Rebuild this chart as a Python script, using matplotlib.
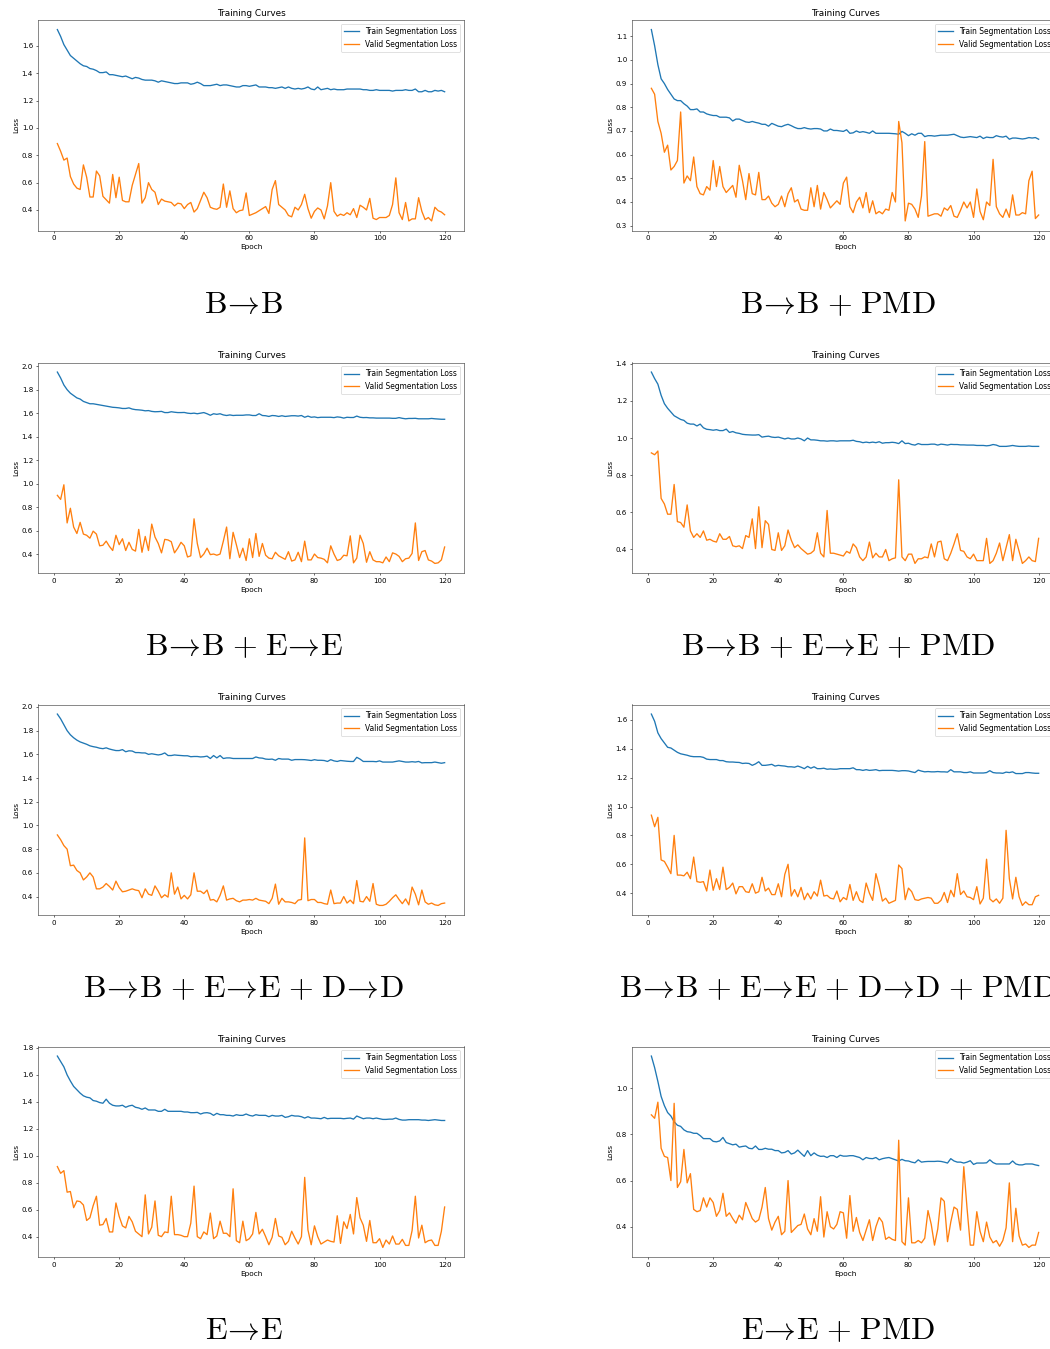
import numpy as np
import matplotlib
matplotlib.use("Agg")
import matplotlib.pyplot as plt

# scaled-down look of the original screenshots
S = 0.51
plt.rcParams.update({
    "font.size": 10 * S,
    "axes.titlesize": 6.4,
    "axes.labelsize": 5.3,
    "xtick.labelsize": 5.1,
    "ytick.labelsize": 5.1,
    "legend.fontsize": 5.45,
    "axes.linewidth": 0.8 * S,
    "axes.edgecolor": "#333333",
    "lines.linewidth": 0.95,
    "xtick.major.size": 3.5 * S,
    "ytick.major.size": 3.5 * S,
    "xtick.major.width": 0.8 * S,
    "ytick.major.width": 0.8 * S,
    "xtick.major.pad": 3.5 * S,
    "ytick.major.pad": 3.5 * S,
    "axes.titlepad": 6 * S,
    "axes.labelpad": 4 * S,
    "legend.frameon": True,
    "patch.linewidth": 1.0 * S,
    "mathtext.fontset": "cm",
})

A = r"\!\rightarrow\!"
P = r"\hspace{0.09}+\hspace{0.09}"
captions = [
    r"$\mathrm{B}" + A + r"\mathrm{B}$",
    r"$\mathrm{B}" + A + r"\mathrm{B}" + P + r"\mathrm{PMD}$",
    r"$\mathrm{B}" + A + r"\mathrm{B}" + P + r"\mathrm{E}" + A + r"\mathrm{E}$",
    r"$\mathrm{B}" + A + r"\mathrm{B}" + P + r"\mathrm{E}" + A + r"\mathrm{E}" + P + r"\mathrm{PMD}$",
    r"$\mathrm{B}" + A + r"\mathrm{B}" + P + r"\mathrm{E}" + A + r"\mathrm{E}" + P + r"\mathrm{D}" + A + r"\mathrm{D}$",
    r"$\mathrm{B}" + A + r"\mathrm{B}" + P + r"\mathrm{E}" + A + r"\mathrm{E}" + P + r"\mathrm{D}" + A + r"\mathrm{D}" + P + r"\mathrm{PMD}$",
    r"$\mathrm{E}" + A + r"\mathrm{E}$",
    r"$\mathrm{E}" + A + r"\mathrm{E}" + P + r"\mathrm{PMD}$",
]

# ---- B->B ----
train_bb = [1.72, 1.67, 1.61, 1.57, 1.53, 1.51, 1.49, 1.47, 1.455, 1.45,
            1.435, 1.43, 1.42, 1.405, 1.405, 1.41, 1.39, 1.39, 1.385, 1.38,
            1.375, 1.38, 1.37, 1.36, 1.37, 1.365, 1.355, 1.35, 1.35, 1.35,
            1.345, 1.335, 1.345, 1.34, 1.335, 1.33, 1.325, 1.325, 1.33, 1.33,
            1.33, 1.32, 1.325, 1.335, 1.325, 1.31, 1.31, 1.31, 1.315, 1.32,
            1.31, 1.315, 1.315, 1.31, 1.305, 1.30, 1.30, 1.31, 1.31, 1.305,
            1.31, 1.315, 1.30, 1.30, 1.30, 1.295, 1.295, 1.29, 1.295, 1.30,
            1.29, 1.30, 1.29, 1.285, 1.29, 1.285, 1.29, 1.30, 1.285, 1.28,
            1.30, 1.28, 1.285, 1.29, 1.28, 1.285, 1.28, 1.28, 1.28, 1.285,
            1.285, 1.285, 1.285, 1.285, 1.28, 1.28, 1.275, 1.275, 1.28, 1.275,
            1.275, 1.275, 1.275, 1.27, 1.275, 1.275, 1.275, 1.28, 1.275, 1.275,
            1.285, 1.265, 1.265, 1.275, 1.265, 1.265, 1.275, 1.27, 1.275, 1.265]
valid_bb = [0.886, 0.83, 0.765, 0.78, 0.645, 0.59, 0.56, 0.55, 0.73, 0.64,
            0.495, 0.495, 0.685, 0.65, 0.50, 0.475, 0.45, 0.66, 0.49, 0.64,
            0.47, 0.46, 0.46, 0.58, 0.66, 0.74, 0.45, 0.49, 0.60, 0.55,
            0.53, 0.44, 0.48, 0.465, 0.46, 0.455, 0.43, 0.45, 0.445, 0.41,
            0.44, 0.455, 0.385, 0.41, 0.47, 0.53, 0.49, 0.42, 0.41, 0.405,
            0.42, 0.59, 0.42, 0.54, 0.41, 0.38, 0.395, 0.40, 0.525, 0.36,
            0.37, 0.38, 0.395, 0.41, 0.425, 0.375, 0.55, 0.615, 0.44, 0.42,
            0.40, 0.36, 0.35, 0.42, 0.40, 0.44, 0.515, 0.41, 0.34, 0.39,
            0.415, 0.40, 0.335, 0.43, 0.60, 0.39, 0.355, 0.37, 0.36, 0.38,
            0.365, 0.41, 0.345, 0.435, 0.42, 0.40, 0.485, 0.34, 0.33, 0.345,
            0.345, 0.345, 0.36, 0.44, 0.635, 0.38, 0.33, 0.455, 0.32, 0.335,
            0.335, 0.49, 0.39, 0.33, 0.345, 0.32, 0.42, 0.395, 0.385, 0.365]

# ---- B->B + PMD ----
train_bb_pmd = [1.128, 1.06, 0.98, 0.92, 0.90, 0.875, 0.855, 0.835, 0.828, 0.828,
                0.815, 0.805, 0.79, 0.79, 0.793, 0.78, 0.78, 0.772, 0.768, 0.765,
                0.765, 0.758, 0.758, 0.758, 0.755, 0.742, 0.75, 0.75, 0.744, 0.738,
                0.736, 0.74, 0.736, 0.733, 0.728, 0.728, 0.72, 0.732, 0.726, 0.72,
                0.718, 0.724, 0.728, 0.722, 0.715, 0.71, 0.71, 0.714, 0.71, 0.708,
                0.71, 0.71, 0.708, 0.70, 0.70, 0.708, 0.702, 0.702, 0.70, 0.698,
                0.705, 0.69, 0.692, 0.70, 0.694, 0.697, 0.694, 0.69, 0.70, 0.69,
                0.69, 0.69, 0.69, 0.69, 0.689, 0.688, 0.686, 0.698, 0.69, 0.68,
                0.688, 0.682, 0.69, 0.69, 0.676, 0.68, 0.68, 0.678, 0.68, 0.682,
                0.682, 0.682, 0.684, 0.686, 0.68, 0.674, 0.672, 0.674, 0.676, 0.674,
                0.672, 0.678, 0.668, 0.674, 0.672, 0.672, 0.68, 0.676, 0.674, 0.678,
                0.665, 0.67, 0.67, 0.668, 0.666, 0.668, 0.672, 0.67, 0.672, 0.665]
valid_bb_pmd = [0.88, 0.855, 0.74, 0.69, 0.61, 0.64, 0.535, 0.55, 0.575, 0.78,
                0.48, 0.51, 0.49, 0.59, 0.465, 0.435, 0.43, 0.465, 0.45, 0.575,
                0.465, 0.55, 0.465, 0.44, 0.455, 0.47, 0.42, 0.555, 0.49, 0.41,
                0.52, 0.435, 0.43, 0.525, 0.41, 0.41, 0.425, 0.395, 0.38, 0.39,
                0.425, 0.38, 0.435, 0.46, 0.40, 0.41, 0.37, 0.365, 0.365, 0.46,
                0.38, 0.47, 0.37, 0.44, 0.41, 0.375, 0.39, 0.405, 0.39, 0.48,
                0.505, 0.38, 0.355, 0.40, 0.42, 0.375, 0.44, 0.355, 0.405, 0.35,
                0.36, 0.35, 0.37, 0.365, 0.44, 0.40, 0.74, 0.65, 0.32, 0.395,
                0.39, 0.37, 0.335, 0.425, 0.655, 0.34, 0.345, 0.35, 0.35, 0.34,
                0.375, 0.365, 0.385, 0.34, 0.335, 0.365, 0.40, 0.375, 0.40, 0.335,
                0.455, 0.36, 0.325, 0.40, 0.385, 0.58, 0.38, 0.35, 0.335, 0.37,
                0.335, 0.43, 0.345, 0.345, 0.355, 0.35, 0.49, 0.53, 0.33, 0.345]

# ---- B->B + E->E ----
train_bbee = [1.95, 1.90, 1.84, 1.80, 1.77, 1.75, 1.73, 1.72, 1.70, 1.69,
              1.68, 1.68, 1.675, 1.67, 1.665, 1.66, 1.655, 1.65, 1.648, 1.645,
              1.64, 1.64, 1.645, 1.635, 1.63, 1.628, 1.625, 1.62, 1.622, 1.615,
              1.612, 1.613, 1.615, 1.605, 1.605, 1.612, 1.608, 1.605, 1.605, 1.606,
              1.60, 1.597, 1.60, 1.595, 1.60, 1.605, 1.595, 1.582, 1.595, 1.59,
              1.595, 1.585, 1.58, 1.585, 1.58, 1.582, 1.582, 1.582, 1.585, 1.585,
              1.58, 1.58, 1.595, 1.58, 1.578, 1.572, 1.58, 1.578, 1.572, 1.578,
              1.572, 1.575, 1.578, 1.578, 1.575, 1.58, 1.565, 1.575, 1.565, 1.568,
              1.562, 1.565, 1.565, 1.565, 1.565, 1.562, 1.568, 1.565, 1.558, 1.565,
              1.563, 1.563, 1.575, 1.565, 1.562, 1.563, 1.56, 1.56, 1.558, 1.558,
              1.558, 1.558, 1.558, 1.556, 1.556, 1.562, 1.556, 1.552, 1.555, 1.555,
              1.556, 1.552, 1.552, 1.552, 1.552, 1.555, 1.552, 1.55, 1.548, 1.548]
valid_bbee = [0.90, 0.865, 0.99, 0.665, 0.79, 0.63, 0.575, 0.67, 0.57, 0.56,
              0.535, 0.595, 0.57, 0.47, 0.475, 0.51, 0.465, 0.43, 0.56, 0.48,
              0.53, 0.43, 0.50, 0.44, 0.425, 0.61, 0.415, 0.55, 0.43, 0.655,
              0.545, 0.49, 0.41, 0.525, 0.52, 0.505, 0.41, 0.45, 0.50, 0.47,
              0.375, 0.385, 0.70, 0.49, 0.37, 0.40, 0.45, 0.395, 0.40, 0.39,
              0.40, 0.51, 0.63, 0.36, 0.585, 0.48, 0.37, 0.45, 0.345, 0.53,
              0.37, 0.575, 0.38, 0.49, 0.39, 0.365, 0.36, 0.415, 0.385, 0.37,
              0.355, 0.42, 0.34, 0.35, 0.415, 0.335, 0.51, 0.35, 0.35, 0.40,
              0.37, 0.365, 0.355, 0.325, 0.47, 0.40, 0.345, 0.355, 0.39, 0.385,
              0.555, 0.325, 0.365, 0.56, 0.49, 0.33, 0.42, 0.35, 0.335, 0.335,
              0.325, 0.375, 0.335, 0.41, 0.40, 0.38, 0.335, 0.36, 0.365, 0.405,
              0.665, 0.345, 0.42, 0.43, 0.35, 0.34, 0.32, 0.325, 0.35, 0.46]

# ---- B->B + E->E + PMD ----
train_bbee_pmd = [1.355, 1.32, 1.29, 1.23, 1.185, 1.16, 1.14, 1.12, 1.11, 1.10,
                  1.095, 1.08, 1.075, 1.075, 1.065, 1.075, 1.055, 1.047, 1.045, 1.042,
                  1.045, 1.04, 1.04, 1.048, 1.03, 1.035, 1.028, 1.025, 1.02, 1.018,
                  1.017, 1.016, 1.016, 1.018, 1.005, 1.008, 1.01, 1.005, 1.003, 1.005,
                  1.0, 0.995, 1.0, 0.995, 0.995, 1.0, 0.995, 0.985, 1.0, 0.99,
                  0.99, 0.988, 0.985, 0.985, 0.983, 0.985, 0.985, 0.983, 0.985, 0.985,
                  0.985, 0.985, 0.988, 0.982, 0.98, 0.975, 0.978, 0.975, 0.978, 0.975,
                  0.98, 0.972, 0.975, 0.975, 0.977, 0.975, 0.97, 0.985, 0.97, 0.972,
                  0.965, 0.962, 0.97, 0.965, 0.965, 0.965, 0.967, 0.967, 0.962, 0.967,
                  0.965, 0.962, 0.966, 0.965, 0.965, 0.963, 0.963, 0.962, 0.962, 0.962,
                  0.96, 0.96, 0.96, 0.958, 0.96, 0.965, 0.962, 0.955, 0.955, 0.955,
                  0.957, 0.96, 0.957, 0.955, 0.955, 0.955, 0.957, 0.955, 0.955, 0.955]
valid_bbee_pmd = [0.92, 0.91, 0.93, 0.675, 0.645, 0.59, 0.59, 0.75, 0.55, 0.545,
                  0.52, 0.64, 0.50, 0.465, 0.485, 0.465, 0.50, 0.45, 0.455, 0.445,
                  0.44, 0.485, 0.455, 0.455, 0.47, 0.42, 0.415, 0.42, 0.405, 0.475,
                  0.465, 0.565, 0.405, 0.63, 0.41, 0.555, 0.535, 0.40, 0.395, 0.49,
                  0.395, 0.42, 0.505, 0.45, 0.41, 0.425, 0.405, 0.39, 0.375, 0.38,
                  0.395, 0.49, 0.38, 0.36, 0.61, 0.38, 0.38, 0.375, 0.37, 0.365,
                  0.39, 0.38, 0.43, 0.41, 0.36, 0.34, 0.36, 0.44, 0.355, 0.38,
                  0.36, 0.36, 0.40, 0.34, 0.35, 0.355, 0.775, 0.36, 0.34, 0.375,
                  0.375, 0.325, 0.35, 0.35, 0.36, 0.355, 0.43, 0.36, 0.44, 0.445,
                  0.35, 0.34, 0.38, 0.43, 0.485, 0.395, 0.39, 0.36, 0.35, 0.375,
                  0.34, 0.34, 0.34, 0.46, 0.325, 0.34, 0.38, 0.435, 0.34, 0.41,
                  0.48, 0.34, 0.455, 0.39, 0.325, 0.34, 0.36, 0.34, 0.335, 0.46]

# ---- B->B + E->E + D->D ----
train_bbeedd = [1.94, 1.90, 1.85, 1.80, 1.765, 1.74, 1.72, 1.705, 1.695, 1.685,
                1.672, 1.665, 1.66, 1.652, 1.648, 1.655, 1.645, 1.638, 1.632, 1.632,
                1.64, 1.622, 1.63, 1.628, 1.615, 1.615, 1.612, 1.612, 1.60, 1.605,
                1.60, 1.595, 1.60, 1.612, 1.59, 1.59, 1.595, 1.592, 1.59, 1.588,
                1.588, 1.58, 1.582, 1.582, 1.578, 1.58, 1.585, 1.565, 1.59, 1.57,
                1.59, 1.565, 1.57, 1.57, 1.565, 1.565, 1.565, 1.565, 1.565, 1.565,
                1.565, 1.578, 1.57, 1.568, 1.56, 1.558, 1.56, 1.55, 1.565, 1.56,
                1.56, 1.56, 1.55, 1.556, 1.556, 1.556, 1.555, 1.552, 1.548, 1.555,
                1.55, 1.55, 1.548, 1.54, 1.555, 1.545, 1.54, 1.548, 1.545, 1.542,
                1.54, 1.54, 1.575, 1.56, 1.54, 1.54, 1.54, 1.54, 1.538, 1.545,
                1.535, 1.535, 1.535, 1.535, 1.54, 1.545, 1.54, 1.535, 1.535, 1.538,
                1.535, 1.54, 1.528, 1.53, 1.53, 1.53, 1.535, 1.53, 1.525, 1.53]
valid_bbeedd = [0.92, 0.88, 0.83, 0.80, 0.66, 0.665, 0.62, 0.60, 0.54, 0.565,
                0.60, 0.565, 0.465, 0.465, 0.48, 0.51, 0.485, 0.455, 0.53, 0.475,
                0.44, 0.445, 0.455, 0.465, 0.455, 0.45, 0.39, 0.465, 0.42, 0.41,
                0.49, 0.445, 0.39, 0.415, 0.395, 0.60, 0.42, 0.48, 0.38, 0.41,
                0.38, 0.415, 0.60, 0.445, 0.445, 0.425, 0.455, 0.37, 0.375, 0.355,
                0.41, 0.49, 0.37, 0.38, 0.385, 0.365, 0.355, 0.37, 0.37, 0.375,
                0.37, 0.385, 0.37, 0.365, 0.36, 0.34, 0.385, 0.505, 0.335, 0.385,
                0.355, 0.355, 0.35, 0.34, 0.37, 0.375, 0.895, 0.365, 0.375, 0.375,
                0.35, 0.35, 0.34, 0.335, 0.455, 0.34, 0.345, 0.345, 0.40, 0.345,
                0.37, 0.34, 0.535, 0.36, 0.355, 0.40, 0.36, 0.51, 0.335, 0.325,
                0.325, 0.335, 0.36, 0.39, 0.415, 0.375, 0.34, 0.38, 0.33, 0.48,
                0.42, 0.33, 0.455, 0.355, 0.335, 0.345, 0.33, 0.325, 0.34, 0.345]

# ---- B->B + E->E + D->D + PMD ----
train_bbeedd_pmd = [1.64, 1.59, 1.51, 1.47, 1.44, 1.41, 1.405, 1.39, 1.375, 1.365,
                    1.36, 1.355, 1.348, 1.345, 1.345, 1.345, 1.34, 1.328, 1.325, 1.325,
                    1.325, 1.318, 1.318, 1.31, 1.308, 1.308, 1.306, 1.305, 1.298, 1.30,
                    1.298, 1.285, 1.295, 1.31, 1.285, 1.285, 1.288, 1.292, 1.28, 1.285,
                    1.282, 1.28, 1.275, 1.275, 1.272, 1.28, 1.272, 1.262, 1.278, 1.265,
                    1.275, 1.262, 1.262, 1.265, 1.258, 1.26, 1.258, 1.258, 1.262, 1.262,
                    1.262, 1.262, 1.268, 1.255, 1.255, 1.25, 1.255, 1.25, 1.252, 1.255,
                    1.248, 1.25, 1.25, 1.25, 1.25, 1.248, 1.245, 1.248, 1.248, 1.246,
                    1.24, 1.235, 1.252, 1.245, 1.24, 1.242, 1.24, 1.24, 1.242, 1.24,
                    1.24, 1.238, 1.255, 1.24, 1.24, 1.24, 1.235, 1.235, 1.24, 1.232,
                    1.232, 1.232, 1.232, 1.235, 1.248, 1.235, 1.232, 1.232, 1.23, 1.238,
                    1.235, 1.24, 1.228, 1.228, 1.228, 1.235, 1.235, 1.232, 1.23, 1.23]
valid_bbeedd_pmd = [0.94, 0.86, 0.925, 0.63, 0.62, 0.58, 0.535, 0.80, 0.525, 0.525,
                    0.52, 0.545, 0.50, 0.65, 0.48, 0.475, 0.48, 0.415, 0.56, 0.42,
                    0.50, 0.425, 0.58, 0.425, 0.44, 0.47, 0.395, 0.445, 0.445, 0.41,
                    0.405, 0.465, 0.40, 0.41, 0.51, 0.415, 0.435, 0.39, 0.39, 0.465,
                    0.375, 0.53, 0.60, 0.38, 0.425, 0.375, 0.44, 0.355, 0.40, 0.36,
                    0.41, 0.38, 0.49, 0.38, 0.385, 0.365, 0.36, 0.415, 0.34, 0.37,
                    0.355, 0.46, 0.35, 0.41, 0.35, 0.335, 0.47, 0.40, 0.35, 0.535,
                    0.45, 0.345, 0.365, 0.33, 0.34, 0.35, 0.595, 0.57, 0.355, 0.435,
                    0.41, 0.355, 0.35, 0.36, 0.365, 0.37, 0.365, 0.33, 0.33, 0.35,
                    0.405, 0.335, 0.42, 0.375, 0.535, 0.39, 0.415, 0.375, 0.37, 0.355,
                    0.445, 0.325, 0.365, 0.635, 0.36, 0.34, 0.36, 0.33, 0.365, 0.835,
                    0.50, 0.36, 0.51, 0.375, 0.315, 0.34, 0.32, 0.32, 0.375, 0.385]

# ---- E->E ----
train_ee = [1.74, 1.70, 1.66, 1.60, 1.555, 1.515, 1.49, 1.465, 1.445, 1.435,
            1.43, 1.41, 1.405, 1.395, 1.39, 1.42, 1.39, 1.375, 1.37, 1.37,
            1.375, 1.36, 1.37, 1.375, 1.36, 1.355, 1.345, 1.355, 1.34, 1.34,
            1.34, 1.33, 1.33, 1.345, 1.33, 1.33, 1.33, 1.33, 1.33, 1.325,
            1.325, 1.32, 1.32, 1.322, 1.31, 1.318, 1.32, 1.315, 1.30, 1.315,
            1.305, 1.305, 1.30, 1.30, 1.295, 1.305, 1.30, 1.30, 1.31, 1.30,
            1.295, 1.305, 1.30, 1.30, 1.30, 1.29, 1.30, 1.295, 1.295, 1.30,
            1.285, 1.29, 1.30, 1.295, 1.295, 1.29, 1.28, 1.29, 1.28, 1.28,
            1.278, 1.275, 1.285, 1.275, 1.278, 1.278, 1.278, 1.278, 1.275, 1.278,
            1.28, 1.272, 1.295, 1.285, 1.275, 1.28, 1.28, 1.275, 1.28, 1.275,
            1.27, 1.27, 1.272, 1.272, 1.28, 1.27, 1.265, 1.265, 1.268, 1.268,
            1.268, 1.268, 1.265, 1.265, 1.262, 1.265, 1.268, 1.265, 1.262, 1.262]
valid_ee = [0.92, 0.87, 0.89, 0.73, 0.735, 0.615, 0.665, 0.66, 0.635, 0.52,
            0.54, 0.63, 0.70, 0.485, 0.49, 0.535, 0.435, 0.435, 0.65, 0.55,
            0.48, 0.465, 0.55, 0.51, 0.44, 0.42, 0.40, 0.71, 0.42, 0.47,
            0.665, 0.41, 0.40, 0.435, 0.43, 0.70, 0.415, 0.415, 0.41, 0.40,
            0.40, 0.50, 0.775, 0.40, 0.385, 0.435, 0.415, 0.575, 0.385, 0.405,
            0.515, 0.425, 0.425, 0.40, 0.755, 0.37, 0.355, 0.515, 0.37, 0.385,
            0.42, 0.58, 0.42, 0.455, 0.40, 0.34, 0.395, 0.535, 0.405, 0.395,
            0.34, 0.365, 0.44, 0.39, 0.345, 0.40, 0.84, 0.45, 0.34, 0.48,
            0.40, 0.345, 0.36, 0.375, 0.365, 0.36, 0.555, 0.35, 0.51, 0.46,
            0.565, 0.42, 0.69, 0.54, 0.485, 0.365, 0.52, 0.355, 0.355, 0.385,
            0.32, 0.375, 0.345, 0.405, 0.345, 0.345, 0.38, 0.335, 0.335, 0.445,
            0.70, 0.39, 0.485, 0.355, 0.37, 0.375, 0.335, 0.335, 0.44, 0.62]

# ---- E->E + PMD ----
train_ee_pmd = [1.14, 1.09, 1.03, 0.965, 0.925, 0.895, 0.88, 0.855, 0.84, 0.835,
                0.82, 0.812, 0.81, 0.805, 0.805, 0.795, 0.782, 0.782, 0.782, 0.77,
                0.768, 0.772, 0.787, 0.765, 0.76, 0.755, 0.758, 0.745, 0.748, 0.75,
                0.74, 0.738, 0.75, 0.735, 0.735, 0.74, 0.736, 0.736, 0.73, 0.73,
                0.72, 0.722, 0.73, 0.715, 0.72, 0.732, 0.718, 0.705, 0.73, 0.708,
                0.72, 0.71, 0.705, 0.706, 0.70, 0.708, 0.708, 0.70, 0.71, 0.706,
                0.706, 0.708, 0.708, 0.704, 0.70, 0.69, 0.70, 0.696, 0.695, 0.70,
                0.69, 0.695, 0.698, 0.70, 0.695, 0.69, 0.685, 0.692, 0.686, 0.685,
                0.68, 0.677, 0.69, 0.68, 0.682, 0.683, 0.683, 0.683, 0.684, 0.683,
                0.68, 0.676, 0.695, 0.685, 0.68, 0.68, 0.676, 0.68, 0.686, 0.67,
                0.676, 0.676, 0.676, 0.677, 0.69, 0.678, 0.672, 0.672, 0.672, 0.672,
                0.672, 0.685, 0.672, 0.668, 0.668, 0.672, 0.672, 0.672, 0.668, 0.665]
valid_ee_pmd = [0.885, 0.87, 0.94, 0.74, 0.705, 0.70, 0.60, 0.935, 0.57, 0.595,
                0.735, 0.59, 0.63, 0.475, 0.465, 0.47, 0.525, 0.485, 0.525, 0.505,
                0.445, 0.47, 0.545, 0.445, 0.46, 0.435, 0.415, 0.45, 0.43, 0.505,
                0.47, 0.435, 0.42, 0.43, 0.485, 0.57, 0.435, 0.385, 0.42, 0.445,
                0.365, 0.38, 0.60, 0.375, 0.39, 0.405, 0.41, 0.455, 0.39, 0.365,
                0.435, 0.38, 0.53, 0.355, 0.465, 0.40, 0.39, 0.41, 0.465, 0.46,
                0.35, 0.535, 0.38, 0.44, 0.375, 0.34, 0.385, 0.43, 0.34, 0.40,
                0.44, 0.42, 0.345, 0.355, 0.345, 0.34, 0.775, 0.335, 0.32, 0.525,
                0.33, 0.33, 0.34, 0.33, 0.35, 0.47, 0.41, 0.32, 0.39, 0.525,
                0.51, 0.335, 0.42, 0.485, 0.475, 0.385, 0.66, 0.48, 0.32, 0.32,
                0.465, 0.38, 0.335, 0.42, 0.355, 0.33, 0.34, 0.315, 0.34, 0.395,
                0.59, 0.335, 0.48, 0.36, 0.32, 0.325, 0.31, 0.32, 0.32, 0.375]

panels = [
    (train_bb, valid_bb), (train_bb_pmd, valid_bb_pmd),
    (train_bbee, valid_bbee), (train_bbee_pmd, valid_bbee_pmd),
    (train_bbeedd, valid_bbeedd), (train_bbeedd_pmd, valid_bbeedd_pmd),
    (train_ee, valid_ee), (train_ee_pmd, valid_ee_pmd),
]

W, H = 1050, 1349
fig = plt.figure(figsize=(W / 100, H / 100), dpi=100)

col_x = [38, 632]          # axes left edge (px)
ax_w, ax_h = 426, 210.5
row_top = [20, 362.5, 704.5, 1046.5]
cap_x = [244, 838]
cap_y = [305, 647, 989, 1331]

for i, (train, valid) in enumerate(panels):
    r, c = divmod(i, 2)
    x0, y0 = col_x[c], row_top[r]
    ax = fig.add_axes([x0 / W, 1 - (y0 + ax_h) / H, ax_w / W, ax_h / H])
    ep_t = np.arange(1, len(train) + 1)
    ep_v = np.arange(1, len(valid) + 1)
    ax.plot(ep_t, train, color="#1f77b4", label="Train Segmentation Loss")
    ax.plot(ep_v, valid, color="#ff7f0e", label="Valid Segmentation Loss")
    ax.set_title("Training Curves")
    ax.set_xlabel("Epoch")
    ax.set_ylabel("Loss")
    ax.set_xticks([0, 20, 40, 60, 80, 100, 120])
    ax.legend(loc="upper right")
    fig.text(cap_x[c] / W, 1 - cap_y[r] / H, captions[i],
             ha="center", va="center", fontsize=23)

fig.savefig("out.png", dpi=100)
